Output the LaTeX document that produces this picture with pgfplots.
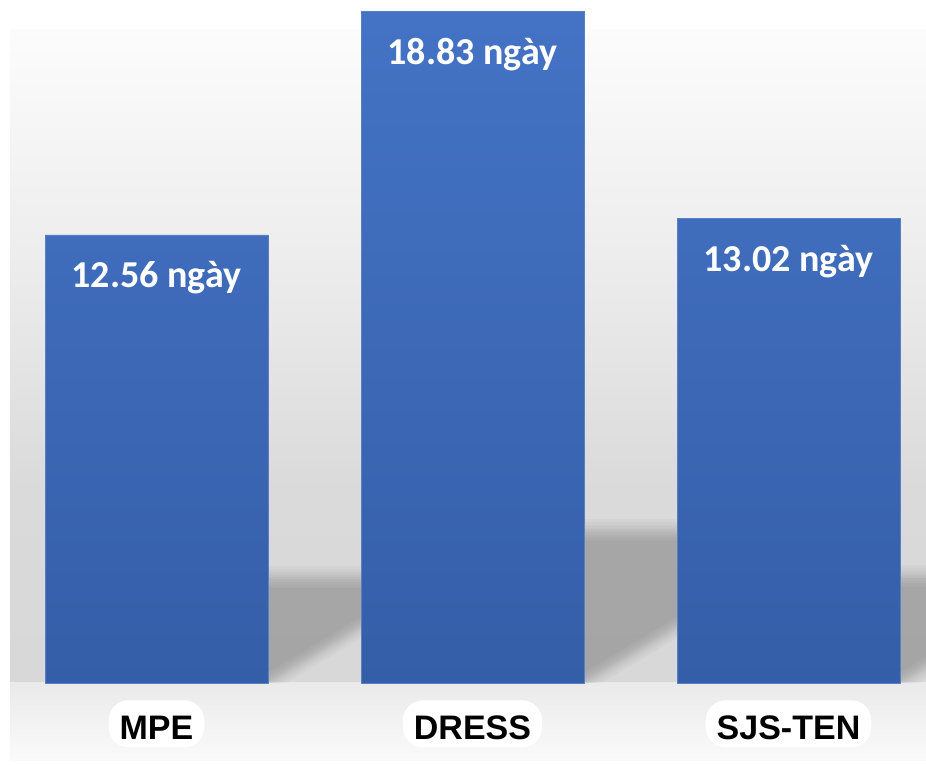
\documentclass[border=0pt]{standalone}
\usepackage{fontspec}
\usepackage{pgfplots}
\pgfplotsset{compat=1.18}
\setmainfont{Liberation Sans}
\newfontfamily\valuefont{Carlito}
\newfontfamily\catfont{Liberation Sans}

\definecolor{barTop}{HTML}{4473C5}
\definecolor{barBot}{HTML}{355EA8}
\definecolor{barEdge}{HTML}{5A80C4}
\definecolor{wallTop}{HTML}{FCFCFC}
\definecolor{wallA}{HTML}{EEEEEE}
\definecolor{wallB}{HTML}{E6E6E6}
\definecolor{wallC}{HTML}{DADADA}
\definecolor{wallD}{HTML}{D8D8D8}
\definecolor{floorTop}{HTML}{EAEAEA}
\definecolor{floorBot}{HTML}{FAFAFA}

% back wall: light at the top, darker towards the floor line
\pgfdeclareverticalshading{wallshade}{100bp}{%
  color(0bp)=(wallD); color(25bp)=(wallD); color(40bp)=(wallC);
  color(51bp)=(wallB); color(59bp)=(wallA); color(75bp)=(wallTop);
  color(100bp)=(wallTop)}

% one layer of a cast shadow: #1 = right edge of the bar, #2 = shadow height,
% #3 = how far the layer's edges are pulled inwards
\newcommand\shadowlayer[3]{%
  \fill[black,fill opacity=0.026] (axis cs:#1,#3) -- (axis cs:#1,#2-#3)
    -- (axis cs:#1+0.32,#2-#3) -- (axis cs:#1+0.32,1.70+#3) -- cycle;}
% soft cast shadow to the right of a bar, built from stacked layers
\newcommand\barshadow[2]{%
  \shadowlayer{#1}{#2}{-0.30}\shadowlayer{#1}{#2}{-0.21}%
  \shadowlayer{#1}{#2}{-0.13}\shadowlayer{#1}{#2}{-0.06}%
  \shadowlayer{#1}{#2}{0.0}\shadowlayer{#1}{#2}{0.06}%
  \shadowlayer{#1}{#2}{0.13}\shadowlayer{#1}{#2}{0.21}%
  \shadowlayer{#1}{#2}{0.30}}

\begin{document}
\begin{tikzpicture}
\path[use as bounding box] (0,0) rectangle (926pt,765pt);
\begin{axis}[
  at={(0,0)}, anchor=south west,
  scale only axis, width=926pt, height=765pt,
  xmin=-0.4953, xmax=2.4351, ymin=-2.299, ymax=19.148,
  axis line style={draw=none}, major tick length=0pt,
  ytick=\empty,
  xtick={0,1,2}, xticklabels={MPE,DRESS,SJS-TEN},
  xticklabel style={anchor=base, yshift=25.7pt,
    font=\catfont\bfseries\fontsize{34}{40}\selectfont,
    fill=white, rounded corners=20pt, inner xsep=11pt, inner ysep=4pt,
    text height=35pt, text depth=4pt},
  axis on top,
  ybar, bar width=0.7057,
  nodes near coords={\pgfmathprintnumber[fixed,fixed zerofill,precision=2,assume math mode=true]{\pgfplotspointmeta}~ngày},
  every node near coord/.append style={anchor=base, yshift=-53pt, text=white,
    font=\valuefont\bfseries\fontsize{38}{44}\selectfont,
    inner sep=0pt, text depth=0pt},
]
  % wall and floor
  \shade[shading=wallshade] (axis cs:-0.4636,0) rectangle (axis cs:2.4351,18.31);
  \shade[top color=floorTop, bottom color=floorBot]
    (axis cs:-0.4636,-2.159) rectangle (axis cs:2.4351,0);

  % shadows, kept on the wall
  \begin{scope}
    \clip (axis cs:-0.4636,0) rectangle (axis cs:2.4351,18.31);
    \barshadow{0.3529}{2.97}
    \barshadow{1.3529}{4.29}
    \barshadow{2.3529}{3.00}
  \end{scope}

  % mean duration per group
  \addplot[draw=barEdge, line width=0.6pt, top color=barTop, bottom color=barBot]
    coordinates {(0,12.56) (1,18.83) (2,13.02)};
\end{axis}
\end{tikzpicture}
\end{document}
